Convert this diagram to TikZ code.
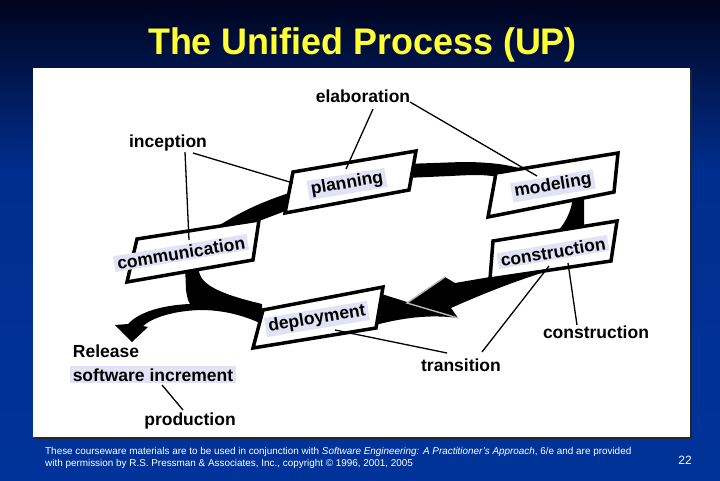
\documentclass[tikz,border=0pt]{standalone}
\usepackage{fontspec}
\setmainfont{Liberation Sans}
\definecolor{bgtop}{RGB}{0,4,30}
\definecolor{bgmid}{RGB}{0,46,142}
\definecolor{bgbot}{RGB}{0,51,153}
\definecolor{titley}{RGB}{255,255,51}
\definecolor{lav}{RGB}{226,226,246}
\begin{document}
\begin{tikzpicture}[x=1pt,y=-1pt,
  lbl/.style={font=\fontsize{17.5}{20}\selectfont\bfseries, inner sep=0pt},
  boxtxt/.style={font=\fontsize{17.5}{20}\selectfont\bfseries, fill=lav, inner xsep=3pt, inner ysep=1.5pt, rotate=9.5},
  stagebox/.style={fill=white, draw=black, line width=3.5pt, line join=miter},
  band/.style={fill=black},
  leader/.style={draw=black, line width=1.3pt},
  foot/.style={text=white, font=\fontsize{9.9}{11}\selectfont, inner sep=0pt, anchor=base west}]
\useasboundingbox (0,0) rectangle (720,480);
% background
\shade[top color=bgtop, bottom color=bgmid] (0,0) rectangle (720,171);
\shade[top color=bgmid, bottom color=bgbot] (0,170) rectangle (720,480);
% panel
\fill[black!85] (35,70) rectangle (692,439);
\fill[white] (33,68) rectangle (690,437);
% title
\node[font=\fontsize{37}{40}\selectfont\bfseries, text=titley, anchor=base, inner sep=0pt, xscale=0.97] (title) at (362.5,54) {The Unified Process (UP)};
% bands of the cycle
\fill[band] (212,233) -- (218,226) .. controls (238,214) and (255,204) .. (292,192) -- (302,191) -- (302,206) -- (288,210) -- (259,221) -- (250,228) -- cycle;
\fill[band] (405,164) -- (462,162) .. controls (492,162) and (512,165) .. (528,171) -- (528,185) -- (497,185) -- (497,177) .. controls (484,174) and (470,175) .. (450,176) -- (405,178) -- cycle;
\fill[band] (573,195) -- (584,193) -- (584,236) -- (553,236) .. controls (564,226) and (572,212) .. (573,195) -- cycle;
\fill[band] (372,291) -- (407,302) -- (458,318) .. controls (430,314) and (400,318) .. (372,326) -- cycle;
\fill[band] (490,277) -- (455,283) -- (445,277) -- (407,303) -- (458,318) -- (451,308) .. controls (480,295) and (515,281) .. (548,271) -- (548,262) -- (490,268) -- cycle;
\draw[gray!55, line width=1.4pt] (445,277) -- (407,303) -- (458,318);
\fill[band] (185,265) -- (186,290) .. controls (187,297) and (188,301) .. (190,304) .. controls (165,305) and (140,311) .. (128,324) -- (115,325) -- (132,342) -- (148,327) -- (143,326) .. controls (152,318) and (172,311) .. (200,310) .. controls (225,310) and (245,316) .. (262,324) -- (262,304) .. controls (220,294) and (202,285) .. (199,272) -- (199,265) -- cycle;
% stage boxes
\filldraw[stagebox] (293,172) -- (416,151) -- (409,190) -- (285,213) -- cycle;
\filldraw[stagebox] (496,173) -- (618,153) -- (614,192) -- (488,217) -- cycle;
\filldraw[stagebox] (493,241) -- (617,221) -- (611,261) -- (490,279) -- cycle;
\filldraw[stagebox] (137,239) -- (259,220) -- (253,260) -- (127,282) -- cycle;
\filldraw[stagebox] (263,310) -- (383,287) -- (376,328) -- (253,348) -- cycle;
% stage texts
\node[boxtxt] (tplan) at (347,184) {planning};
\node[boxtxt] (tmod) at (553,186) {modeling};
\node[boxtxt] (tcons) at (553,252) {construction};
\node[boxtxt] (tcomm) at (181,253) {communication};
\node[boxtxt] (tdep) at (317,319) {deployment};
% labels
\node[lbl, anchor=base] (elab) at (363,102) {elaboration};
\node[lbl, anchor=base] (incep) at (168,147) {inception};
\node[lbl, anchor=base] (rel) at (106,357) {Release};
\node[lbl, anchor=base, fill=lav, inner xsep=3pt, inner ysep=2pt] (inc) at (153,381) {software increment};
\node[lbl, anchor=base] (prod) at (190,425) {production};
\node[lbl, anchor=base] (trans) at (461,371) {transition};
\node[lbl, anchor=base] (consl) at (596,338) {construction};
% leader end points
\coordinate (elabA) at (373,109);
\coordinate (elabB) at (410,102);
\coordinate (planE) at (346,169);
\coordinate (modE) at (537,176);
\coordinate (incA) at (193,153);
\coordinate (incB) at (185,152);
\coordinate (planI) at (293,183);
\coordinate (commI) at (189,240);
\coordinate (prodA) at (183,410);
\coordinate (incP) at (162,385);
\coordinate (trA) at (447,353);
\coordinate (trB) at (482,352);
\coordinate (depT) at (335,330);
\coordinate (consT) at (549,266);
\coordinate (clA) at (577,325);
\coordinate (consC) at (568,263);
\draw[leader] (elabA) -- (planE);
\draw[leader] (elabB) -- (modE);
\draw[leader] (incA) -- (planI);
\draw[leader] (incB) -- (commI);
\draw[leader] (prodA) -- (incP);
\draw[leader] (trA) -- (depT);
\draw[leader] (trB) -- (consT);
\draw[leader] (clA) -- (consC);
% footer
\node[foot] (f1) at (45,454.5) {These courseware materials are to be used in conjunction with \textit{Software Engineering: A Practitioner's Approach}, 6/e and are provided};
\node[foot] (f2) at (45,466.5) {with permission by R.S. Pressman \& Associates, Inc., copyright © 1996, 2001, 2005};
\node[text=white, font=\fontsize{12}{14}\selectfont, anchor=base, inner sep=0pt] (pg) at (685,464) {22};
\end{tikzpicture}
\end{document}
